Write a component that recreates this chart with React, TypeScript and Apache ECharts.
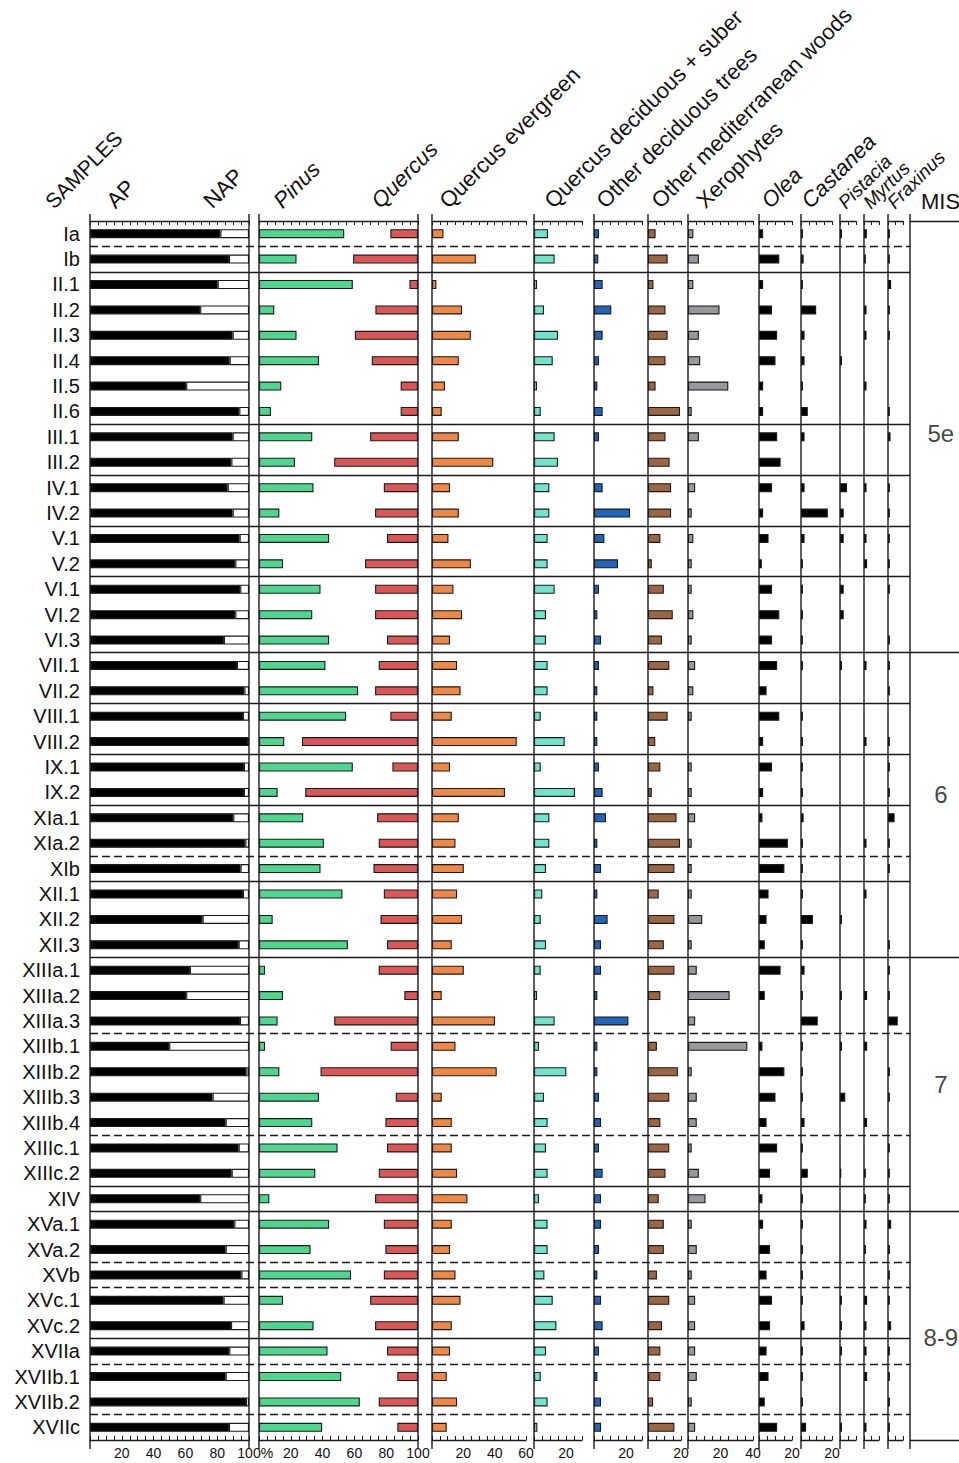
import React, { useEffect, useRef } from 'react';
import * as echarts from 'echarts';

const W = 959;
const H = 1463;
const TOP = 221;
const BOTTOM_Y = 1440;
const FONT = '"Liberation Sans", Arial, sans-serif';
const INK = '#1a1a1a';

// ---------- DATA ----------
const samples = ['Ia', 'Ib', 'II.1', 'II.2', 'II.3', 'II.4', 'II.5', 'II.6', 'III.1', 'III.2', 'IV.1', 'IV.2', 'V.1', 'V.2', 'VI.1', 'VI.2', 'VI.3', 'VII.1', 'VII.2', 'VIII.1', 'VIII.2', 'IX.1', 'IX.2', 'XIa.1', 'XIa.2', 'XIb', 'XII.1', 'XII.2', 'XII.3', 'XIIIa.1', 'XIIIa.2', 'XIIIa.3', 'XIIIb.1', 'XIIIb.2', 'XIIIb.3', 'XIIIb.4', 'XIIIc.1', 'XIIIc.2', 'XIV', 'XVa.1', 'XVa.2', 'XVb', 'XVc.1', 'XVc.2', 'XVIIa', 'XVIIb.1', 'XVIIb.2', 'XVIIc'];

const apValues = [82, 87.4, 80.3, 69.3, 89.7, 87.8, 60.5, 93.9, 89.7, 88.9, 86.6, 89.7, 94.1, 91.4, 94.5, 91.4, 84.2, 92.4, 97.1, 96.2, 99.5, 96.8, 96.8, 90.1, 97.7, 94.7, 96.2, 70.8, 93.5, 62.8, 60.5, 94.3, 49.8, 98.3, 77.1, 85.3, 93.5, 89.1, 69.3, 90.8, 85.3, 95.2, 84.0, 88.7, 87.6, 85.3, 98.1, 87.4];

const pinusValues = [53.6, 23.6, 59.0, 9.6, 23.6, 37.7, 14.0, 7.5, 33.5, 22.6, 34.3, 12.8, 44.1, 15.1, 38.7, 33.5, 44.1, 41.8, 62.3, 54.8, 15.9, 59.0, 11.7, 27.8, 40.8, 38.7, 52.5, 8.6, 55.9, 3.8, 15.1, 11.7, 3.8, 12.8, 37.7, 33.5, 49.4, 35.4, 6.5, 44.1, 32.4, 57.9, 15.1, 34.3, 43.1, 51.7, 63.4, 39.7];

const quercusValues = [17.4, 40.8, 5.4, 26.8, 39.7, 29.1, 10.9, 10.9, 30.1, 52.7, 21.5, 27.0, 19.5, 33.3, 27.0, 27.0, 19.5, 24.7, 27.0, 17.4, 73.0, 16.1, 70.9, 25.7, 24.7, 28.0, 21.5, 23.6, 19.5, 24.7, 8.6, 52.7, 17.2, 61.3, 14.0, 20.5, 19.5, 24.7, 27.0, 21.5, 20.5, 21.5, 30.1, 27.0, 19.5, 13.0, 24.7, 13.0];

const quercusEvergreen = [7.3, 28.0, 2.8, 19.2, 24.8, 17.1, 8.3, 6.2, 17.1, 39.1, 11.5, 17.1, 10.5, 24.8, 13.7, 19.2, 11.5, 16.0, 18.2, 12.6, 54.1, 11.5, 46.6, 17.1, 15.0, 20.3, 16.0, 19.2, 12.6, 20.3, 6.2, 40.2, 15.0, 41.3, 6.2, 12.6, 12.6, 16.0, 22.6, 12.6, 11.5, 15.0, 18.2, 12.6, 11.5, 9.4, 16.0, 9.4];

const quercusDeciduousSuber = [8.75, 12.9, 1.9, 6.25, 15.0, 11.7, 1.9, 4.2, 12.9, 15.0, 9.6, 9.6, 8.5, 8.5, 12.9, 7.5, 7.5, 8.5, 8.5, 4.2, 19.2, 4.2, 25.6, 9.6, 9.6, 7.5, 5.2, 4.2, 7.5, 4.2, 1.9, 12.9, 3.1, 20.2, 6.25, 8.5, 7.5, 8.5, 3.1, 8.5, 8.5, 6.5, 11.7, 14.0, 7.5, 4.2, 8.5, 2.1];

const otherDeciduous = [3.1, 2.7, 5.4, 10.8, 5.4, 3.1, 2.1, 5.4, 3.1, 0, 5.4, 22.5, 6.5, 15.0, 3.1, 2.1, 4.4, 3.1, 2.1, 2.1, 2.1, 3.1, 5.4, 7.5, 2.1, 4.4, 2.1, 8.5, 4.4, 4.4, 2.1, 21.5, 2.1, 2.1, 3.1, 4.4, 3.1, 5.4, 4.4, 4.4, 3.1, 2.1, 4.4, 5.4, 3.1, 2.1, 4.4, 4.4];

const otherMediterranean = [4.6, 11.9, 3.3, 10.6, 11.9, 10.6, 4.6, 19.4, 10.6, 13.1, 14.0, 14.0, 7.5, 2.3, 9.6, 15.0, 8.5, 12.9, 3.3, 11.9, 4.4, 7.5, 2.3, 17.3, 19.4, 16.0, 6.5, 16.0, 9.6, 16.0, 7.5, 0, 5.4, 18.1, 12.9, 7.5, 12.9, 10.6, 6.5, 9.6, 9.6, 5.4, 12.9, 8.5, 7.5, 7.5, 3.1, 16.0];

const xerophytes = [3.3, 6.7, 3.3, 19.4, 6.7, 7.5, 24.8, 2.3, 6.7, 0, 4.4, 2.3, 3.3, 2.3, 2.3, 3.3, 2.3, 4.4, 3.3, 2.3, 0, 2.3, 2.3, 4.4, 2.3, 2.3, 2.3, 8.75, 2.3, 5.4, 25.6, 4.4, 36.5, 2.3, 5.4, 5.4, 2.3, 6.7, 10.8, 2.3, 5.4, 2.3, 4.4, 4.4, 4.4, 5.4, 2.3, 4.4];

const olea = [2.5, 12.3, 2.5, 7.9, 11.0, 10.0, 2.5, 2.5, 11.0, 13.1, 7.9, 2.5, 5.8, 1.7, 7.9, 12.3, 7.9, 11.0, 4.6, 12.3, 2.5, 7.9, 2.5, 2.1, 17.5, 15.4, 5.8, 4.6, 3.5, 13.1, 3.5, 0, 2.1, 15.4, 10.0, 4.6, 11.0, 6.7, 2.1, 2.5, 6.7, 4.6, 7.9, 6.7, 4.6, 5.8, 3.5, 11.0];

const castanea = [1.25, 1.7, 1.25, 9.8, 2.3, 2.3, 1.25, 4.4, 2.3, 0, 2.3, 17.3, 2.3, 1.25, 1.25, 1.25, 1.25, 1.25, 0, 1.25, 1.25, 1.25, 1.25, 1.7, 1.25, 1.25, 1.25, 7.7, 1.25, 2.3, 1.25, 10.8, 1.25, 1.25, 1.25, 2.3, 1.25, 4.4, 1.25, 1.25, 1.25, 1.25, 1.25, 2.3, 1.25, 1.25, 1.25, 3.3];

const pistacia = [1.25, 0, 0, 0, 0, 1.25, 0, 0, 0, 0, 4.4, 2.3, 2.3, 0, 2.3, 2.3, 0, 1.25, 0, 0, 0, 0, 0, 0, 0, 0, 0, 1.25, 0, 0, 1.25, 0, 1.25, 0, 3.3, 0, 0, 0.8, 0, 0, 0, 0, 1.25, 1.25, 1.25, 0, 0, 1.25];

const myrtus = [1.9, 1.25, 0, 1.7, 1.7, 0, 1.7, 0, 0, 0, 1.7, 0, 1.7, 2.1, 0, 0, 0, 1.7, 0, 0, 1.7, 0, 0, 0, 1.7, 0, 1.7, 0, 0, 0, 2.1, 0, 2.1, 0, 0, 2.1, 0, 1.25, 1.25, 1.7, 1.25, 0, 2.1, 1.7, 1.7, 2.1, 0, 1.7];

const fraxinus = [1.25, 1.25, 2.1, 1.25, 1.25, 0, 0, 1.25, 1.7, 0, 1.25, 1.25, 1.25, 1.25, 1.25, 0, 1.25, 1.25, 1.25, 0, 1.25, 1.25, 1.25, 4.4, 1.25, 1.25, 0, 0, 1.25, 1.25, 1.25, 6.5, 0, 1.25, 1.25, 0, 1.25, 1.25, 1.25, 2.1, 1.25, 1.25, 1.25, 2.1, 1.25, 1.25, 1.25, 1.25];

// zone boundaries (in row units)
const solidBreaks = [2, 8, 10, 12, 14, 17, 19, 21, 23, 26, 29, 38, 39, 44];
const dashedBreaks = [1, 25, 32, 36, 41, 42, 45, 47];
const misBreaks = [0, 17, 29, 39, 48];
const misLabels = ['5e', '6', '7', '8-9'];
const misLabelRows = [8.35, 22.6, 34.0, 43.95];

// ---------- LAYOUT ----------
const panels = [
  { left: 90, width: 159, max: 100, right: true },
  { left: 259, width: 159, max: 100, right: true },
  { left: 432, width: 94, max: 60 },
  { left: 534, width: 48, max: 30 },
  { left: 594, width: 48, max: 30 },
  { left: 648, width: 33, max: 20 },
  { left: 688, width: 65, max: 40 },
  { left: 759, width: 33, max: 20 },
  { left: 801, width: 31, max: 20 },
  { left: 840, width: 16, max: 10 },
  { left: 864, width: 15, max: 10 },
  { left: 888, width: 15, max: 10 },
];

const headers = [
  { text: 'SAMPLES', x: 56, size: 21 },
  { text: 'AP', x: 118 },
  { text: 'NAP', x: 215 },
  { text: 'Pinus', x: 285, italic: true },
  { text: 'Quercus', x: 383, italic: true },
  { text: 'Quercus evergreen', x: 451 },
  { text: 'Quercus deciduous + suber', x: 556 },
  { text: 'Other deciduous trees', x: 608 },
  { text: 'Other mediterranean woods', x: 663 },
  { text: 'Xerophytes', x: 708 },
  { text: 'Olea', x: 773, italic: true },
  { text: 'Castanea', x: 813, italic: true },
  { text: 'Pistacia', x: 848, italic: true, size: 19 },
  { text: 'Myrtus', x: 873, italic: true, size: 19 },
  { text: 'Fraxinus', x: 897, italic: true, size: 19 },
];

const nz = (arr: number[]) => arr.map((v) => (v > 0 ? v : '-'));

function buildOption() {
  const grid: any[] = [];
  const xAxis: any[] = [];
  const yAxis: any[] = [];
  const series: any[] = [];
  const bottomIdx: number[] = [];
  let pinusInverseIdx = 0;
  const gh = BOTTOM_Y - TOP;

  panels.forEach((p, i) => {
    grid.push({ left: p.left, width: p.width, top: TOP, height: gh });
    yAxis.push({
      type: 'category',
      gridIndex: i,
      data: samples,
      inverse: true,
      axisLine: { show: false },
      axisTick: { show: false },
      splitLine: { show: false },
      axisLabel:
        i === 0
          ? { show: true, interval: 0, fontSize: 20, color: '#111', fontFamily: FONT, margin: 10 }
          : { show: false },
    });
    bottomIdx.push(xAxis.length);
    xAxis.push({
      type: 'value',
      gridIndex: i,
      position: 'bottom',
      min: 0,
      max: p.max,
      interval: 5,
      axisLine: { show: true, lineStyle: { color: INK, width: 1.3 } },
      axisTick: { show: true, inside: true, length: 4, lineStyle: { color: INK, width: 1 } },
      splitLine: { show: false },
      axisLabel: {
        show: true,
        fontSize: 14,
        color: '#111',
        fontFamily: FONT,
        margin: 6,
        formatter: (v: number) => (v > 0 && v % 20 === 0 ? String(v) : ''),
      },
    });
    xAxis.push({
      type: 'value',
      gridIndex: i,
      position: 'top',
      min: 0,
      max: p.max,
      interval: 5,
      axisLine: { show: true, lineStyle: { color: INK, width: 1.3 } },
      axisTick: { show: true, inside: true, length: 4, lineStyle: { color: INK, width: 1 } },
      splitLine: { show: false },
      axisLabel: { show: false },
    });
    if (i === 1) {
      pinusInverseIdx = xAxis.length;
      xAxis.push({ type: 'value', gridIndex: 1, min: 0, max: 100, inverse: true, show: false, position: 'bottom' });
    }
  });

  // overlay grid for zone lines
  const ovG = grid.length;
  grid.push({ left: 90, width: 820, top: TOP, height: gh });
  const ovX = xAxis.length;
  xAxis.push({ type: 'value', gridIndex: ovG, min: 0, max: 1, show: false });
  const ovY = yAxis.length;
  yAxis.push({ type: 'value', gridIndex: ovG, min: 0, max: 48, inverse: true, show: false });

  const misG = grid.length;
  grid.push({ left: 910, width: 49, top: TOP, height: gh });
  const misX = xAxis.length;
  xAxis.push({ type: 'value', gridIndex: misG, min: 0, max: 1, show: false });
  const misY = yAxis.length;
  yAxis.push({ type: 'value', gridIndex: misG, min: 0, max: 48, inverse: true, show: false });

  const bar = (xi: number, yi: number, data: any[], color: string, extra: any = {}) => ({
    type: 'bar',
    xAxisIndex: xi,
    yAxisIndex: yi,
    data,
    barWidth: 9,
    silent: true,
    itemStyle: { color, borderColor: INK, borderWidth: 1.1 },
    ...extra,
  });

  series.push(bar(bottomIdx[0], 0, apValues, '#000', { stack: 'ap' }));
  series.push(bar(bottomIdx[0], 0, apValues.map((v) => +(100 - v).toFixed(2)), '#fff', { stack: 'ap' }));
  series.push(bar(bottomIdx[1], 1, nz(pinusValues), '#4ED68E', { barGap: '-100%' }));
  series.push(bar(pinusInverseIdx, 1, nz(quercusValues), '#DD5656', { barGap: '-100%' }));
  const rest: [number[], string][] = [
    [quercusEvergreen, '#EE8844'],
    [quercusDeciduousSuber, '#72E4CC'],
    [otherDeciduous, '#2266BB'],
    [otherMediterranean, '#9C6644'],
    [xerophytes, '#97979C'],
    [olea, '#000'],
    [castanea, '#000'],
    [pistacia, '#000'],
    [myrtus, '#000'],
    [fraxinus, '#000'],
  ];
  rest.forEach(([arr, c], k) => {
    const i = k + 2;
    series.push(bar(bottomIdx[i], i, nz(arr), c));
  });

  const lineStyle = { color: INK, width: 1.3 };
  series.push({
    type: 'line',
    xAxisIndex: ovX,
    yAxisIndex: ovY,
    data: [[0, 0]],
    showSymbol: false,
    lineStyle: { opacity: 0 },
    silent: true,
    markLine: {
      silent: true,
      symbol: ['none', 'none'],
      label: { show: false },
      lineStyle,
      data: [
        ...solidBreaks.map((v) => ({ yAxis: v, lineStyle: { ...lineStyle, type: 'solid' } })),
        ...dashedBreaks.map((v) => ({ yAxis: v, lineStyle: { ...lineStyle, type: [8, 4] } })),
      ],
    },
  });
  series.push({
    type: 'scatter',
    xAxisIndex: misX,
    yAxisIndex: misY,
    symbolSize: 1,
    silent: true,
    itemStyle: { color: 'transparent' },
    data: misLabels.map((name, k) => ({ name, value: [0.63, misLabelRows[k]] })),
    label: { show: true, position: 'inside', formatter: '{b}', fontSize: 24, color: '#111', fontFamily: FONT },
    markLine: {
      silent: true,
      symbol: ['none', 'none'],
      label: { show: false },
      lineStyle: { ...lineStyle, type: 'solid' },
      data: misBreaks.map((v) => ({ yAxis: v })),
    },
  });

  // graphics: panel verticals, headers
  const graphic: any[] = [];
  const vx: number[] = [];
  panels.forEach((p) => {
    vx.push(p.left);
    if (p.right) vx.push(p.left + p.width);
  });
  vx.push(910);
  vx.forEach((x) => {
    graphic.push({
      type: 'line',
      silent: true,
      z: 100,
      shape: { x1: x, y1: TOP - 7, x2: x, y2: BOTTOM_Y + 9 },
      style: { stroke: INK, lineWidth: 1.4 },
    });
  });
  headers.forEach((h) => {
    const size = h.size || 22;
    graphic.push({
      type: 'text',
      x: h.x,
      y: 212,
      rotation: Math.PI / 4,
      silent: true,
      style: {
        text: h.text,
        fill: '#111',
        fontSize: size,
        fontFamily: FONT,
        fontStyle: h.italic ? 'italic' : 'normal',
        textAlign: 'left',
        textVerticalAlign: 'bottom',
        align: 'left',
        verticalAlign: 'bottom',
      },
    });
  });
  graphic.push({
    type: 'text',
    x: 921,
    y: 212,
    silent: true,
    style: { text: 'MIS', fill: '#111', fontSize: 22, fontFamily: FONT, textAlign: 'left', textVerticalAlign: 'bottom', align: 'left', verticalAlign: 'bottom' },
  });
  graphic.push({
    type: 'text',
    x: 267,
    y: BOTTOM_Y + 13,
    silent: true,
    style: { text: '%', fill: '#111', fontSize: 14, fontFamily: FONT, textAlign: 'center', textVerticalAlign: 'middle', align: 'center', verticalAlign: 'middle' },
  });

  return {
    animation: false,
    backgroundColor: '#ffffff',
    textStyle: { fontFamily: FONT },
    grid,
    xAxis,
    yAxis,
    series,
    graphic,
  };
}

export default function App() {
  const ref = useRef<HTMLDivElement>(null);
  useEffect(() => {
    if (!ref.current) return;
    const chart = echarts.init(ref.current, null, { renderer: 'svg', width: W, height: H });
    chart.setOption(buildOption() as any);
    return () => {
      chart.dispose();
    };
  }, []);
  return (
    <div
      ref={ref}
      style={{ position: 'absolute', left: 0, top: 0, width: W, height: H, background: '#fff' }}
    />
  );
}
